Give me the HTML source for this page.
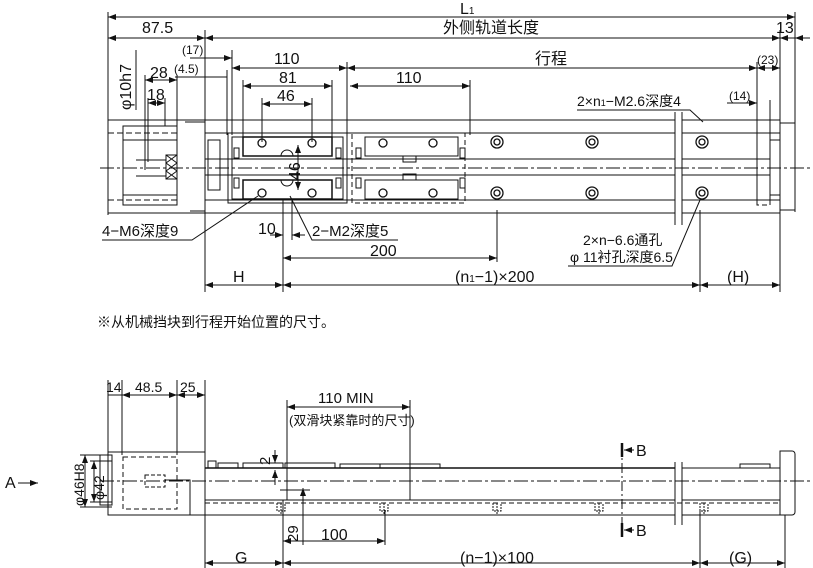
<!DOCTYPE html>
<html><head><meta charset="utf-8"><style>
html,body{margin:0;padding:0;background:#fff}
svg{display:block}
text{font-family:"Liberation Sans","Noto Sans CJK SC",sans-serif;fill:#111}
</style></head><body>
<svg width="813" height="568" viewBox="0 0 813 568" xmlns="http://www.w3.org/2000/svg">
<defs>
<marker id="a" markerWidth="8" markerHeight="6" refX="8" refY="3" orient="auto-start-reverse" markerUnits="userSpaceOnUse"><path d="M0,0 L8,3 L0,6 z" fill="#111"/></marker>
</defs>
<g stroke="#111" stroke-width="1" fill="none">
<line x1="108" y1="12" x2="108" y2="215"/>
<line x1="205" y1="30" x2="205" y2="292"/>
<line x1="780" y1="30" x2="780" y2="292"/>
<line x1="795" y1="12" x2="795" y2="212"/>
<line x1="232" y1="50" x2="232" y2="135"/>
<line x1="227" y1="70" x2="227" y2="135"/>
<line x1="347" y1="62" x2="347" y2="135"/>
<line x1="243" y1="80" x2="243" y2="137"/>
<line x1="332" y1="80" x2="332" y2="137"/>
<line x1="262" y1="98" x2="262" y2="142"/>
<line x1="312" y1="98" x2="312" y2="142"/>
<line x1="470" y1="80" x2="470" y2="135"/>
<line x1="757" y1="62" x2="757" y2="205"/>
<line x1="770" y1="100" x2="770" y2="205"/>
<line x1="145" y1="75" x2="145" y2="170"/>
<line x1="177" y1="75" x2="177" y2="126"/>
<line x1="148" y1="98" x2="148" y2="162"/>
<line x1="165" y1="98" x2="165" y2="126"/>
<line x1="283" y1="200" x2="283" y2="292"/>
<line x1="292" y1="200" x2="292" y2="240"/>
<line x1="497" y1="210" x2="497" y2="262"/>
<line x1="700" y1="210" x2="700" y2="292"/>
<line x1="108" y1="17" x2="795" y2="17" marker-start="url(#a)" marker-end="url(#a)"/>
<line x1="108" y1="38" x2="205" y2="38" marker-start="url(#a)" marker-end="url(#a)"/>
<line x1="205" y1="38" x2="780" y2="38" marker-start="url(#a)" marker-end="url(#a)"/>
<line x1="780" y1="38" x2="795" y2="38" marker-start="url(#a)"/>
<line x1="795" y1="38" x2="810" y2="38" marker-start="url(#a)"/>
<line x1="232" y1="68" x2="347" y2="68" marker-start="url(#a)" marker-end="url(#a)"/>
<line x1="347" y1="68" x2="757" y2="68" marker-start="url(#a)" marker-end="url(#a)"/>
<line x1="757" y1="68" x2="780" y2="68" marker-start="url(#a)" marker-end="url(#a)"/>
<line x1="190" y1="58" x2="232" y2="58" marker-end="url(#a)"/>
<line x1="175" y1="77" x2="227" y2="77"/>
<line x1="243" y1="86" x2="332" y2="86" marker-start="url(#a)" marker-end="url(#a)"/>
<line x1="350" y1="86" x2="470" y2="86" marker-start="url(#a)" marker-end="url(#a)"/>
<line x1="262" y1="104" x2="312" y2="104" marker-start="url(#a)" marker-end="url(#a)"/>
<line x1="145" y1="80" x2="177" y2="80" marker-start="url(#a)" marker-end="url(#a)"/>
<line x1="148" y1="103" x2="165" y2="103" marker-start="url(#a)" marker-end="url(#a)"/>
<line x1="727" y1="103" x2="757" y2="103" marker-end="url(#a)"/>
<line x1="270" y1="235" x2="283" y2="235" marker-end="url(#a)"/>
<line x1="305" y1="235" x2="292" y2="235" marker-end="url(#a)"/>
<line x1="283" y1="258" x2="497" y2="258" marker-start="url(#a)" marker-end="url(#a)"/>
<line x1="205" y1="285" x2="283" y2="285" marker-start="url(#a)" marker-end="url(#a)"/>
<line x1="283" y1="285" x2="700" y2="285" marker-start="url(#a)" marker-end="url(#a)"/>
<line x1="700" y1="285" x2="780" y2="285" marker-start="url(#a)" marker-end="url(#a)"/>
<line x1="136" y1="110" x2="136" y2="50"/>
<rect x="108" y="120" width="97" height="93"/>
<rect x="123" y="126" width="54" height="79"/>
<line x1="108" y1="133" x2="180" y2="133" stroke-dasharray="6,3"/>
<line x1="108" y1="200" x2="180" y2="200" stroke-dasharray="6,3"/>
<line x1="123" y1="140" x2="177" y2="140"/>
<line x1="123" y1="195" x2="177" y2="195"/>
<rect x="166" y="155" width="11" height="24"/>
<path d="M166,155 L177,163 M177,155 L166,163 M166,163 L177,171 M177,163 L166,171 M166,171 L177,179 M177,171 L166,179"/>
<line x1="136" y1="160" x2="166" y2="160"/>
<line x1="136" y1="176" x2="166" y2="176"/>
<line x1="185" y1="122" x2="205" y2="122"/>
<line x1="190" y1="211" x2="205" y2="211"/>
<line x1="205" y1="120" x2="675" y2="120"/>
<line x1="682" y1="120" x2="780" y2="120"/>
<line x1="205" y1="213" x2="675" y2="213"/>
<line x1="682" y1="213" x2="780" y2="213"/>
<line x1="205" y1="133" x2="675" y2="133"/>
<line x1="682" y1="133" x2="780" y2="133"/>
<line x1="205" y1="200" x2="675" y2="200"/>
<line x1="682" y1="200" x2="780" y2="200"/>
<line x1="205" y1="159" x2="675" y2="159"/>
<line x1="682" y1="159" x2="770" y2="159"/>
<line x1="205" y1="175" x2="675" y2="175"/>
<line x1="682" y1="175" x2="770" y2="175"/>
<line x1="100" y1="168" x2="813" y2="168" stroke-dasharray="14,3,3,3"/>
<line x1="675" y1="112" x2="675" y2="225"/>
<line x1="682" y1="112" x2="682" y2="225"/>
<rect x="757" y="133" width="13" height="72" stroke-dasharray="5,3"/>
<rect x="770" y="140" width="10" height="55"/>
<rect x="780" y="123" width="15" height="87"/>
<rect x="208" y="140" width="12" height="50"/>
<rect x="228" y="133" width="119" height="70"/>
<rect x="232" y="137" width="111" height="62"/>
<rect x="243" y="137" width="89" height="19" stroke-width="1.5"/>
<rect x="243" y="180" width="89" height="19" stroke-width="1.5"/>
<rect x="234" y="148" width="5" height="10"/>
<rect x="234" y="178" width="5" height="10"/>
<rect x="336" y="148" width="5" height="10"/>
<rect x="336" y="178" width="5" height="10"/>
<path d="M281,156 a6,6 0 0 1 12,0 M281,180 a6,6 0 0 0 12,0"/>
<rect x="352" y="133" width="113" height="70" stroke-dasharray="5,3"/>
<rect x="365" y="137" width="93" height="19"/>
<rect x="365" y="180" width="93" height="19"/>
<rect x="356" y="148" width="5" height="10"/>
<rect x="356" y="178" width="5" height="10"/>
<rect x="460" y="148" width="5" height="10"/>
<rect x="460" y="178" width="5" height="10"/>
<rect x="403" y="156" width="13" height="6"/>
<rect x="403" y="174" width="13" height="6"/>
<g stroke-width="1.3">
<circle cx="262" cy="143" r="4"/><circle cx="312" cy="143" r="4"/>
<circle cx="262" cy="193" r="4"/><circle cx="312" cy="193" r="4"/>
<circle cx="383" cy="143" r="4"/><circle cx="433" cy="143" r="4"/>
<circle cx="383" cy="193" r="4"/><circle cx="433" cy="193" r="4"/>
<circle cx="497" cy="142" r="6"/><circle cx="497" cy="142" r="3"/>
<circle cx="592" cy="142" r="6"/><circle cx="592" cy="142" r="3"/>
<circle cx="702" cy="142" r="6"/><circle cx="702" cy="142" r="3"/>
<circle cx="497" cy="193" r="6"/><circle cx="497" cy="193" r="3"/>
<circle cx="592" cy="193" r="6"/><circle cx="592" cy="193" r="3"/>
<circle cx="702" cy="193" r="6"/><circle cx="702" cy="193" r="3"/>
</g>
<line x1="298" y1="145" x2="298" y2="190" marker-start="url(#a)" marker-end="url(#a)"/>
<polyline points="102,240 192,240 258,196"/>
<polyline points="398,240 312,240 290,196"/>
<polyline points="577,110 690,110 703,122"/>
<polyline points="568,266 672,266 700,200"/>
<line x1="108" y1="380" x2="108" y2="455"/>
<line x1="122" y1="380" x2="122" y2="455"/>
<line x1="177" y1="380" x2="177" y2="455"/>
<line x1="205" y1="380" x2="205" y2="568"/>
<line x1="108" y1="395" x2="122" y2="395"/>
<line x1="122" y1="395" x2="177" y2="395" marker-start="url(#a)" marker-end="url(#a)"/>
<line x1="177" y1="395" x2="205" y2="395" marker-start="url(#a)" marker-end="url(#a)"/>
<rect x="108" y="452" width="97" height="63"/>
<rect x="123" y="457" width="54" height="52" stroke-dasharray="5,3"/>
<rect x="100" y="455" width="12" height="50"/>
<line x1="80" y1="455" x2="112" y2="455"/><line x1="80" y1="507" x2="112" y2="507"/>
<line x1="85" y1="455" x2="85" y2="507" marker-start="url(#a)" marker-end="url(#a)"/>
<line x1="94" y1="461" x2="94" y2="502" marker-start="url(#a)" marker-end="url(#a)"/>
<line x1="90" y1="461" x2="112" y2="461"/><line x1="90" y1="502" x2="112" y2="502"/>
<rect x="145" y="475" width="20" height="12" stroke-dasharray="4,2"/>
<polyline points="165,480 190,480 190,515"/>
<line x1="205" y1="468" x2="675" y2="468" stroke-width="1.5"/>
<line x1="682" y1="468" x2="780" y2="468"/>
<line x1="205" y1="500" x2="675" y2="500"/><line x1="682" y1="500" x2="780" y2="500"/>
<line x1="205" y1="503" x2="780" y2="503" stroke-dasharray="5,3"/>
<line x1="205" y1="515" x2="675" y2="515"/><line x1="682" y1="515" x2="780" y2="515"/>
<line x1="100" y1="481" x2="813" y2="481" stroke-dasharray="14,3,3,3"/>
<path d="M780,451 h12 a3,3 0 0 1 3,3 v58 a3,3 0 0 1 -3,3 h-12 z"/>
<line x1="675" y1="462" x2="675" y2="525"/><line x1="682" y1="462" x2="682" y2="525"/>
<rect x="208" y="461" width="8" height="7"/>
<rect x="218" y="463" width="20" height="5"/>
<rect x="243" y="463" width="40" height="5"/>
<rect x="285" y="463" width="50" height="5"/>
<rect x="340" y="464" width="40" height="4"/>
<rect x="380" y="464" width="60" height="4"/>
<rect x="740" y="464" width="30" height="4"/>
<line x1="287" y1="400" x2="287" y2="500"/>
<line x1="410" y1="400" x2="410" y2="500"/>
<line x1="287" y1="407" x2="410" y2="407" marker-start="url(#a)" marker-end="url(#a)"/>
<line x1="275" y1="450" x2="275" y2="463" marker-end="url(#a)"/>
<line x1="275" y1="485" x2="275" y2="470" marker-end="url(#a)"/>
<line x1="303" y1="488" x2="303" y2="545" marker-start="url(#a)"/>
<line x1="280" y1="490" x2="310" y2="490"/>
<g stroke-dasharray="2,1">
<path d="M277,503 v8 h8 v-8 M281,503 v12"/>
<path d="M380,503 v8 h8 v-8 M384,503 v12"/>
<path d="M493,503 v8 h8 v-8 M497,503 v12"/>
<path d="M595,503 v8 h8 v-8 M599,503 v12"/>
<path d="M700,503 v8 h8 v-8 M704,503 v12"/>
</g>
<line x1="283" y1="500" x2="283" y2="568"/>
<line x1="385" y1="510" x2="385" y2="545"/>
<line x1="700" y1="510" x2="700" y2="568"/>
<line x1="785" y1="515" x2="785" y2="568"/>
<line x1="283" y1="541" x2="385" y2="541" marker-start="url(#a)" marker-end="url(#a)"/>
<line x1="205" y1="563" x2="283" y2="563" marker-start="url(#a)" marker-end="url(#a)"/>
<line x1="283" y1="563" x2="700" y2="563" marker-start="url(#a)" marker-end="url(#a)"/>
<line x1="700" y1="563" x2="785" y2="563" marker-start="url(#a)" marker-end="url(#a)"/>
<line x1="622" y1="445" x2="622" y2="535" stroke-dasharray="10,3,2,3"/>
<line x1="622" y1="443" x2="622" y2="457" stroke-width="2.5"/>
<line x1="622" y1="523" x2="622" y2="537" stroke-width="2.5"/>
<line x1="634" y1="450" x2="624" y2="450" marker-end="url(#a)"/>
<line x1="634" y1="530" x2="624" y2="530" marker-end="url(#a)"/>
<line x1="18" y1="483" x2="38" y2="483" marker-end="url(#a)"/>
</g>
<g font-size="16">
<text x="460" y="14">L<tspan font-size="10">1</tspan></text>
<text x="142" y="33">87.5</text>
<text x="443" y="33">外侧轨道长度</text>
<text x="776" y="33">13</text>
<text x="274" y="64">110</text>
<text x="535" y="64">行程</text>
<text x="279" y="83">81</text>
<text x="396" y="83">110</text>
<text x="277" y="101">46</text>
<text x="150" y="78">28</text>
<text x="147" y="100">18</text>
<text x="182" y="54" font-size="12">(17)</text>
<text x="174" y="73" font-size="12">(4.5)</text>
<text x="757" y="64" font-size="12">(23)</text>
<text x="729" y="100" font-size="12">(14)</text>
<text transform="translate(131,110) rotate(-90)">φ10h7</text>
<text transform="translate(300,180) rotate(-90)">46</text>
<text x="577" y="106" font-size="14">2×n<tspan font-size="9">1</tspan>−M2.6深度4</text>
<text x="102" y="236" font-size="15">4−M6深度9</text>
<text x="258" y="234">10</text>
<text x="312" y="236" font-size="15">2−M2深度5</text>
<text x="370" y="256">200</text>
<text x="583" y="245" font-size="14">2×n−6.6通孔</text>
<text x="570" y="262" font-size="14">φ 11衬孔深度6.5</text>
<text x="233" y="282">H</text>
<text x="455" y="282">(n<tspan font-size="10">1</tspan>−1)×200</text>
<text x="727" y="282">(H)</text>
<text x="97" y="327" font-size="14">※从机械挡块到行程开始位置的尺寸。</text>
<text x="106" y="392" font-size="14">14</text>
<text x="135" y="392" font-size="14">48.5</text>
<text x="180" y="392" font-size="14">25</text>
<text x="318" y="403" font-size="15">110 MIN</text>
<text x="289" y="425" font-size="13">(双滑块紧靠时的尺寸)</text>
<text transform="translate(270,465) rotate(-90)" font-size="15">2</text>
<text transform="translate(298,542) rotate(-90)" font-size="15">29</text>
<text x="321" y="540">100</text>
<text x="5" y="488">A</text>
<text transform="translate(84,506) rotate(-90)" font-size="14">φ46H8</text>
<text transform="translate(104,500) rotate(-90)" font-size="14">φ42</text>
<text x="636" y="456">B</text>
<text x="636" y="536">B</text>
<text x="235" y="563">G</text>
<text x="460" y="563">(n−1)×100</text>
<text x="729" y="563">(G)</text>
</g>
</svg>
</body></html>
